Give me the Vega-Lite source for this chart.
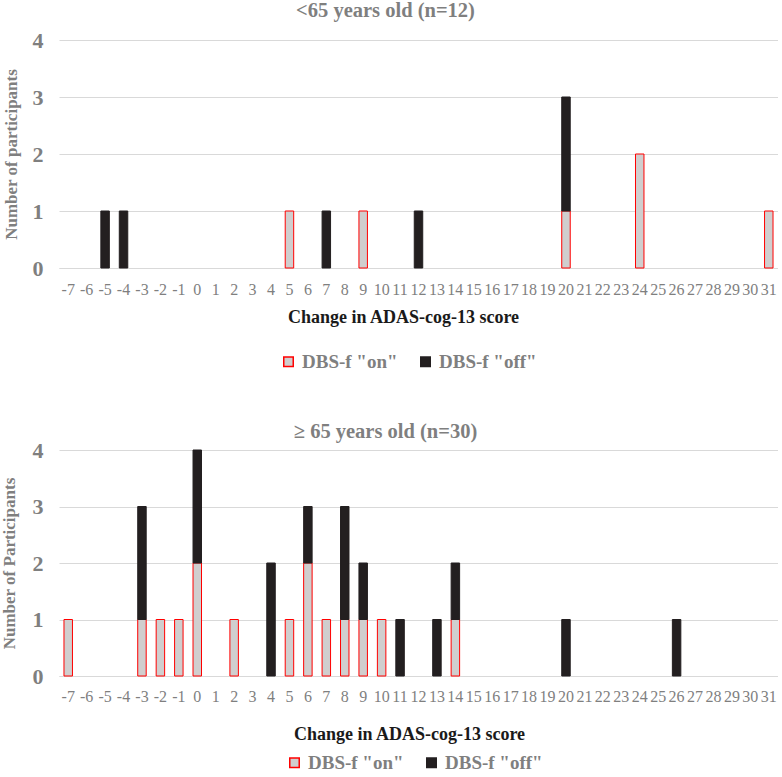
{
  "$schema": "https://vega.github.io/schema/vega-lite/v6.json",
  "padding": {"left": 0, "top": 0, "right": 0, "bottom": 0},
  "background": "white",
  "spacing": 49,
  "datasets": {
    "young": [
      {"change": -5, "series": "DBS-f \"off\"", "count": 1},
      {"change": -4, "series": "DBS-f \"off\"", "count": 1},
      {"change": 5, "series": "DBS-f \"on\"", "count": 1},
      {"change": 7, "series": "DBS-f \"off\"", "count": 1},
      {"change": 9, "series": "DBS-f \"on\"", "count": 1},
      {"change": 12, "series": "DBS-f \"off\"", "count": 1},
      {"change": 20, "series": "DBS-f \"on\"", "count": 1},
      {"change": 20, "series": "DBS-f \"off\"", "count": 2},
      {"change": 24, "series": "DBS-f \"on\"", "count": 2},
      {"change": 31, "series": "DBS-f \"on\"", "count": 1}
    ],
    "old": [
      {"change": -7, "series": "DBS-f \"on\"", "count": 1},
      {"change": -3, "series": "DBS-f \"on\"", "count": 1},
      {"change": -3, "series": "DBS-f \"off\"", "count": 2},
      {"change": -2, "series": "DBS-f \"on\"", "count": 1},
      {"change": -1, "series": "DBS-f \"on\"", "count": 1},
      {"change": 0, "series": "DBS-f \"on\"", "count": 2},
      {"change": 0, "series": "DBS-f \"off\"", "count": 2},
      {"change": 2, "series": "DBS-f \"on\"", "count": 1},
      {"change": 4, "series": "DBS-f \"off\"", "count": 2},
      {"change": 5, "series": "DBS-f \"on\"", "count": 1},
      {"change": 6, "series": "DBS-f \"on\"", "count": 2},
      {"change": 6, "series": "DBS-f \"off\"", "count": 1},
      {"change": 7, "series": "DBS-f \"on\"", "count": 1},
      {"change": 8, "series": "DBS-f \"on\"", "count": 1},
      {"change": 8, "series": "DBS-f \"off\"", "count": 2},
      {"change": 9, "series": "DBS-f \"on\"", "count": 1},
      {"change": 9, "series": "DBS-f \"off\"", "count": 1},
      {"change": 10, "series": "DBS-f \"on\"", "count": 1},
      {"change": 11, "series": "DBS-f \"off\"", "count": 1},
      {"change": 13, "series": "DBS-f \"off\"", "count": 1},
      {"change": 14, "series": "DBS-f \"on\"", "count": 1},
      {"change": 14, "series": "DBS-f \"off\"", "count": 1},
      {"change": 20, "series": "DBS-f \"off\"", "count": 1},
      {"change": 26, "series": "DBS-f \"off\"", "count": 1}
    ]
  },
  "config": {
    "font": "Liberation Serif",
    "view": {"stroke": null},
    "title": {"font": "Liberation Serif", "fontSize": 20.5, "fontWeight": "bold", "color": "#7f7f7f", "anchor": "middle"},
    "axis": {"labelFont": "Liberation Serif", "titleFont": "Liberation Serif"},
    "legend": {"labelFont": "Liberation Serif"}
  },
  "resolve": {"legend": {"fill": "independent", "stroke": "independent"}, "scale": {"x": "independent", "y": "independent"}},
  "vconcat": [
    {
      "title": {"text": "<65 years old (n=12)", "offset": 8, "dx": -33},
      "width": 719,
      "height": 228,
      "data": {"name": "young"},
      "mark": {"type": "bar", "strokeWidth": 1},
      "encoding": {
        "x": {
          "field": "change", "type": "ordinal",
          "scale": {"domain": [-7,-6,-5,-4,-3,-2,-1,0,1,2,3,4,5,6,7,8,9,10,11,12,13,14,15,16,17,18,19,20,21,22,23,24,25,26,27,28,29,30,31], "paddingInner": 0.54, "paddingOuter": 0.27},
          "axis": {"title": "Change in ADAS-cog-13 score", "titleFontSize": 18, "titleFontWeight": "bold", "titleColor": "#1a1a1a", "titlePadding": 11, "titleX": 344, "labelAngle": 0, "labelFontSize": 16, "labelColor": "#7f7f7f", "labelPadding": 13, "ticks": false, "domainColor": "#d9d9d9", "domainWidth": 1.2, "labelOverlap": false, "labelBound": false}
        },
        "y": {
          "field": "count", "type": "quantitative", "stack": "zero",
          "scale": {"domain": [0, 4], "nice": false},
          "axis": {"title": "Number of participants", "titleFontSize": 17, "titleFontWeight": "bold", "titleColor": "#7f7f7f", "titlePadding": 12, "values": [0,1,2,3,4], "labelFontSize": 22, "labelFontWeight": "bold", "labelColor": "#7f7f7f", "labelPadding": 16, "ticks": false, "domain": false, "gridColor": "#d9d9d9", "gridWidth": 1.2}
        },
        "fill": {
          "field": "series", "type": "nominal",
          "scale": {"domain": ["DBS-f \"on\"", "DBS-f \"off\""], "range": ["#d0cece", "#231f20"]},
          "legend": {"title": null, "orient": "none", "legendX": 220, "legendY": 312, "direction": "horizontal", "labelFontSize": 19, "labelFontWeight": "bold", "labelColor": "#7f7f7f", "symbolType": "square", "symbolSize": 90, "symbolStrokeWidth": 1.5, "columnPadding": 18, "labelOffset": 4}
        },
        "stroke": {
          "field": "series", "type": "nominal",
          "scale": {"domain": ["DBS-f \"on\"", "DBS-f \"off\""], "range": ["#ff0000", "#231f20"]},
          "legend": {"title": null, "orient": "none", "legendX": 220, "legendY": 312, "direction": "horizontal", "labelFontSize": 19, "labelFontWeight": "bold", "labelColor": "#7f7f7f", "symbolType": "square", "symbolSize": 90, "symbolStrokeWidth": 1.5, "columnPadding": 18, "labelOffset": 4}
        },
        "order": {"field": "series", "sort": "descending"}
      }
    },
    {
      "title": {"text": "≥ 65 years old (n=30)", "offset": -3, "dx": -33},
      "width": 719,
      "height": 226,
      "data": {"name": "old"},
      "mark": {"type": "bar", "strokeWidth": 1},
      "encoding": {
        "x": {
          "field": "change", "type": "ordinal",
          "scale": {"domain": [-7,-6,-5,-4,-3,-2,-1,0,1,2,3,4,5,6,7,8,9,10,11,12,13,14,15,16,17,18,19,20,21,22,23,24,25,26,27,28,29,30,31], "paddingInner": 0.54, "paddingOuter": 0.27},
          "axis": {"title": "Change in ADAS-cog-13 score", "titleFontSize": 18, "titleFontWeight": "bold", "titleColor": "#1a1a1a", "titlePadding": 21, "titleX": 350, "labelAngle": 0, "labelFontSize": 16, "labelColor": "#7f7f7f", "labelPadding": 12, "ticks": false, "domainColor": "#d9d9d9", "domainWidth": 1.2, "labelOverlap": false, "labelBound": false}
        },
        "y": {
          "field": "count", "type": "quantitative", "stack": "zero",
          "scale": {"domain": [0, 4], "nice": false},
          "axis": {"title": "Number of Participants", "titleFontSize": 17, "titleFontWeight": "bold", "titleColor": "#7f7f7f", "titlePadding": 14, "values": [0,1,2,3,4], "labelFontSize": 22, "labelFontWeight": "bold", "labelColor": "#7f7f7f", "labelPadding": 16, "ticks": false, "domain": false, "gridColor": "#d9d9d9", "gridWidth": 1.2}
        },
        "fill": {
          "field": "series", "type": "nominal",
          "scale": {"domain": ["DBS-f \"on\"", "DBS-f \"off\""], "range": ["#d0cece", "#231f20"]},
          "legend": {"title": null, "orient": "none", "legendX": 226, "legendY": 303, "direction": "horizontal", "labelFontSize": 19, "labelFontWeight": "bold", "labelColor": "#7f7f7f", "symbolType": "square", "symbolSize": 90, "symbolStrokeWidth": 1.5, "columnPadding": 18, "labelOffset": 4}
        },
        "stroke": {
          "field": "series", "type": "nominal",
          "scale": {"domain": ["DBS-f \"on\"", "DBS-f \"off\""], "range": ["#ff0000", "#231f20"]},
          "legend": {"title": null, "orient": "none", "legendX": 226, "legendY": 303, "direction": "horizontal", "labelFontSize": 19, "labelFontWeight": "bold", "labelColor": "#7f7f7f", "symbolType": "square", "symbolSize": 90, "symbolStrokeWidth": 1.5, "columnPadding": 18, "labelOffset": 4}
        },
        "order": {"field": "series", "sort": "descending"}
      }
    }
  ]
}
